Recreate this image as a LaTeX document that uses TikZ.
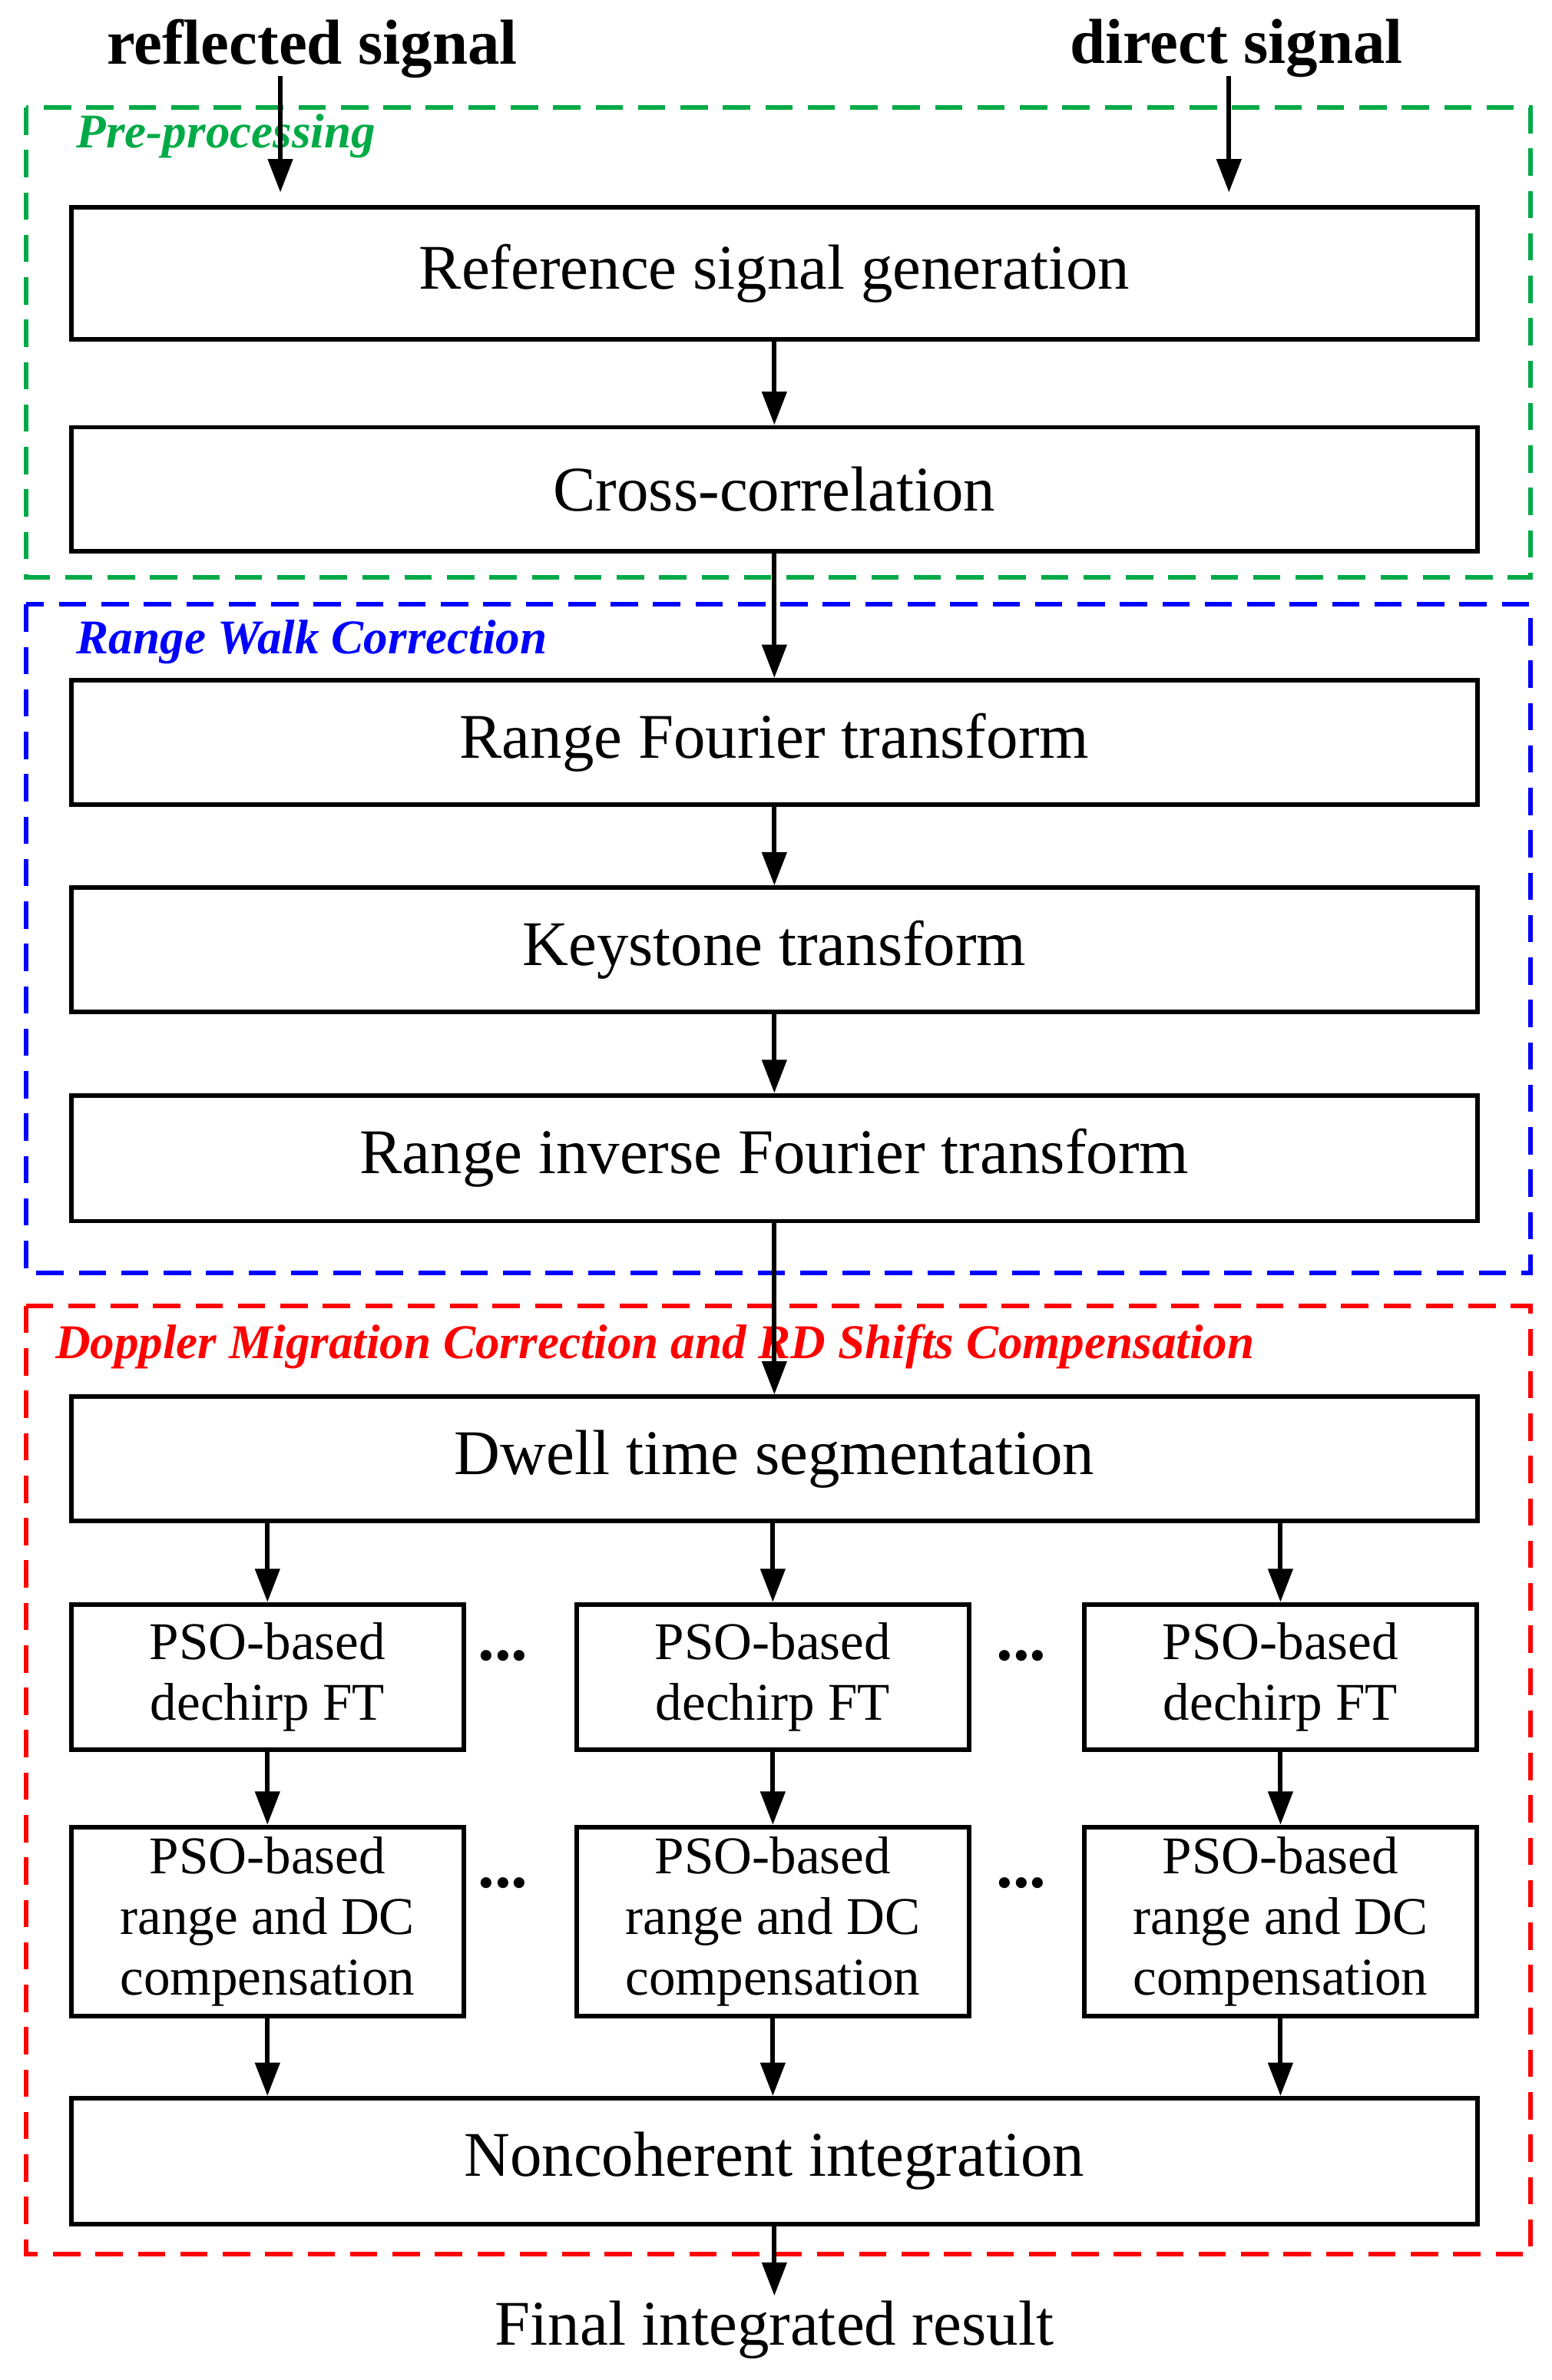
\documentclass[tikz,border=0pt]{standalone}
\usepackage{fontspec}
\setmainfont{Liberation Serif}
\usetikzlibrary{arrows.meta}
\definecolor{pgreen}{RGB}{0,170,70}
\begin{document}
\begin{tikzpicture}[x=1pt,y=-1pt,
  box/.style={draw,line width=3pt,inner sep=0pt,font=\fontsize{42}{48}\selectfont},
  sbox/.style={draw,line width=3pt,inner sep=0pt,font=\fontsize{35}{40}\selectfont,align=center},
  arr/.style={line width=3pt,-{Triangle[length=22pt,width=16pt]}},
  grp/.style={line width=3pt,dash pattern=on 18pt off 10pt},
  lab/.style={font=\fontsize{32}{36}\selectfont\bfseries\itshape,anchor=west}]
\useasboundingbox (0,0) rectangle (1024,1571);
\fill[white] (0,0) rectangle (1024,1571);
\draw[grp,pgreen] (17,71) rectangle (1010,381);
\draw[grp,blue] (17,399) rectangle (1010,840);
\draw[grp,red] (17,862) rectangle (1010,1488);
\node[lab,text=pgreen] (l1) at (47,90) {Pre-processing};
\node[lab,text=blue] (l2) at (47,424) {Range Walk Correction};
\node[lab,text=red] (l3) at (33,889) {Doppler Migration Correction and RD Shifts Compensation};
\node[font=\fontsize{42}{48}\selectfont\bfseries] (rs) at (206,32) {reflected signal};
\node[font=\fontsize{42}{48}\selectfont\bfseries] (ds) at (816,32) {direct signal};
\newcommand{\bx}[4]{\node[box,minimum width=928pt,minimum height=#3pt] (#1) at (511,#2) {#4};}
\bx{b1}{180.5}{87}{Reference signal generation}
\bx{b2}{323}{82}{Cross-correlation}
\bx{b3}{490}{82}{Range Fourier transform}
\bx{b4}{627}{82}{Keystone transform}
\bx{b5}{764.5}{83}{Range inverse Fourier transform}
\bx{b6}{963}{82}{Dwell time segmentation}
\bx{b7}{1426.5}{83}{Noncoherent integration}
\foreach \n/\x in {a/176.5,b/510,c/845}{
  \node[sbox,minimum width=259pt,minimum height=96pt] (p\n) at (\x,1107) {PSO-based\\dechirp FT};
  \node[sbox,minimum width=259pt,minimum height=125pt] (q\n) at (\x,1268.5) {PSO-based\\range and DC\\compensation};
}
\foreach \y in {1103,1253}{
  \node[font=\fontsize{44}{48}\selectfont\bfseries] at (332,\y-10) {...};
  \node[font=\fontsize{44}{48}\selectfont\bfseries] at (674,\y-10) {...};
}
\node[font=\fontsize{42}{48}\selectfont] (fin) at (511,1538) {Final integrated result};
\coordinate (r0) at (185,50); \coordinate (d0) at (811,50);
\draw[arr] (r0) -- (185,127);
\draw[arr] (d0) -- (811,127);
\draw[arr] (b1) -- (b2);
\draw[arr] (b2) -- (b3);
\draw[arr] (b3) -- (b4);
\draw[arr] (b4) -- (b5);
\draw[arr] (b5) -- (b6);
\foreach \n in {a,b,c}{
  \draw[arr] (b6.south -| p\n) -- (p\n);
  \draw[arr] (p\n) -- (q\n);
  \draw[arr] (q\n) -- (b7.north -| q\n);
}
\draw[arr] (b7) -- (fin);
\end{tikzpicture}
\end{document}
